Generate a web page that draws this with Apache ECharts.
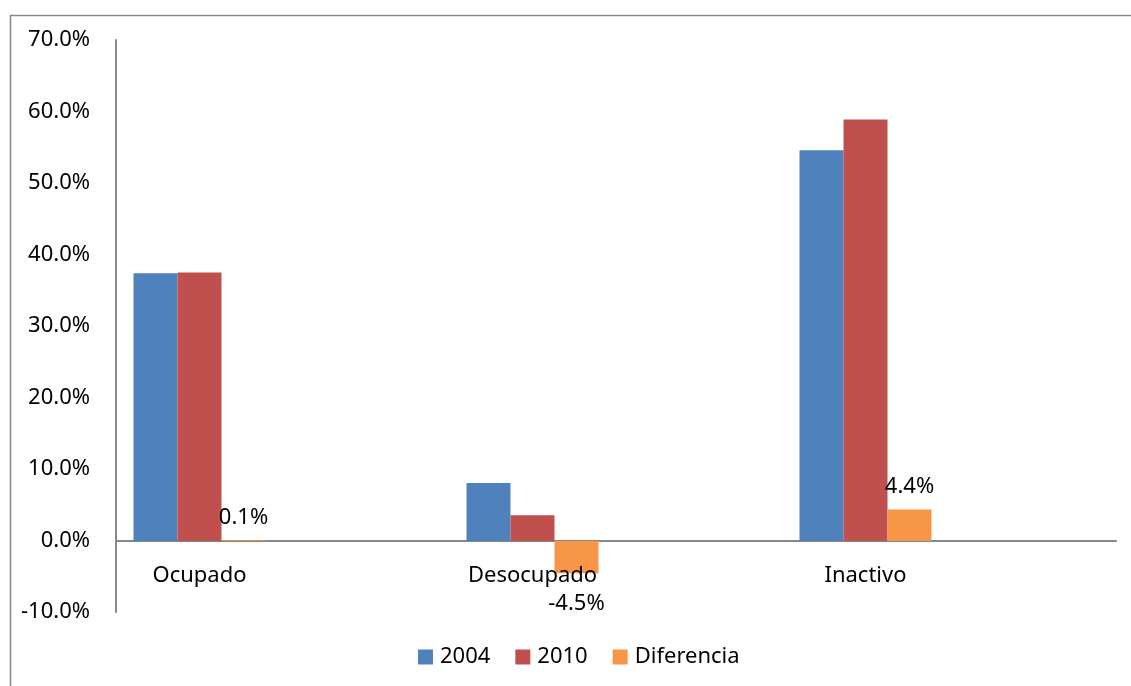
<!DOCTYPE html>
<html>
<head>
    <meta charset="utf-8"/>
    <title>Ocupado / Desocupado / Inactivo</title>
    <script src="https://cdn.jsdelivr.net/npm/echarts@6/dist/echarts.min.js"></script>
    <style>
        html, body { margin: 0; padding: 0; background: #fff; }
        #chart { width: 1131px; height: 686px; }
    </style>
</head>
<body>
<div id="chart"></div>
<script type="text/javascript">
    // datos (en %)
    var categorias = ['Ocupado', 'Desocupado', 'Inactivo'];
    var serie2004 = [37.4, 8.1, 54.6];
    var serie2010 = [37.5, 3.6, 58.9];
    var diferencia = [0.1, -4.5, 4.4];
    var yTicks = [-10, 0, 10, 20, 30, 40, 50, 60, 70];

    var FONT = '"Noto Sans", sans-serif';
    var GRIS = '#878787';
    var FS = 22;

    var myChart = echarts.init(document.getElementById('chart'));

    var option = {
        backgroundColor: '#fff',
        animation: false,
        textStyle: { fontFamily: FONT },
        graphic: [{
            type: 'rect',
            left: 8, top: 13,
            shape: { width: 1300, height: 900 },
            style: { fill: 'none', stroke: GRIS, lineWidth: 1.5 },
            silent: true
        }],
        // grid 0: ejes visibles (-10..70)
        // grid 1: barras, misma escala pero recortada en 0 para que las categorias queden bajo la linea de cero
        grid: [
            { left: 116, right: 15, top: 40, bottom: 74 },
            { left: 33, width: 999, top: 40, bottom: 145 }
        ],
        legend: {
            left: 413, top: 641,
            itemWidth: 15, itemHeight: 15, itemGap: 25,
            icon: 'rect',
            textStyle: { fontFamily: FONT, fontSize: FS, color: '#000', padding: [0, 0, 0, 2] },
            data: ['2004', '2010', 'Diferencia']
        },
        xAxis: [{
            gridIndex: 0,
            type: 'value', min: 0, max: 1,
            axisLine: { show: true, onZero: true, lineStyle: { color: GRIS, width: 2 } },
            axisTick: { show: false },
            axisLabel: { show: false },
            splitLine: { show: false }
        }, {
            gridIndex: 1,
            type: 'category',
            data: categorias,
            z: 5,
            axisLine: { show: false },
            axisTick: { show: false },
            axisLabel: { fontFamily: FONT, fontSize: FS, color: '#000', margin: 24 }
        }],
        yAxis: [{
            gridIndex: 0,
            type: 'value',
            min: yTicks[0],
            max: yTicks[yTicks.length - 1],
            interval: 10,
            splitLine: { show: false },
            axisTick: { show: false },
            axisLine: { show: true, onZero: false, lineStyle: { color: GRIS, width: 2 } },
            axisLabel: {
                fontFamily: FONT, fontSize: FS, color: '#000', margin: 26,
                formatter: function (v) { return v.toFixed(1) + '%'; }
            }
        }, {
            gridIndex: 1,
            type: 'value',
            min: 0,
            max: yTicks[yTicks.length - 1],
            show: false
        }],
        series: [{
            name: '2004', type: 'bar', xAxisIndex: 1, yAxisIndex: 1,
            barWidth: 44, barGap: '0%', clip: false,
            itemStyle: { color: '#4F81BD' },
            data: serie2004
        }, {
            name: '2010', type: 'bar', xAxisIndex: 1, yAxisIndex: 1,
            barWidth: 44, barGap: '0%', clip: false,
            itemStyle: { color: '#C0504D' },
            data: serie2010
        }, {
            name: 'Diferencia', type: 'bar', xAxisIndex: 1, yAxisIndex: 1,
            barWidth: 44, barGap: '0%', clip: false,
            itemStyle: { color: '#F79646' },
            label: {
                show: true, fontFamily: FONT, fontSize: FS, color: '#000',
                formatter: function (p) { return p.value.toFixed(1) + '%'; }
            },
            data: diferencia.map(function (v) {
                return {
                    value: v,
                    label: { position: v < 0 ? 'bottom' : 'top', distance: v < 0 ? 20 : 12 }
                };
            })
        }]
    };

    myChart.setOption(option);
</script>
</body>
</html>
